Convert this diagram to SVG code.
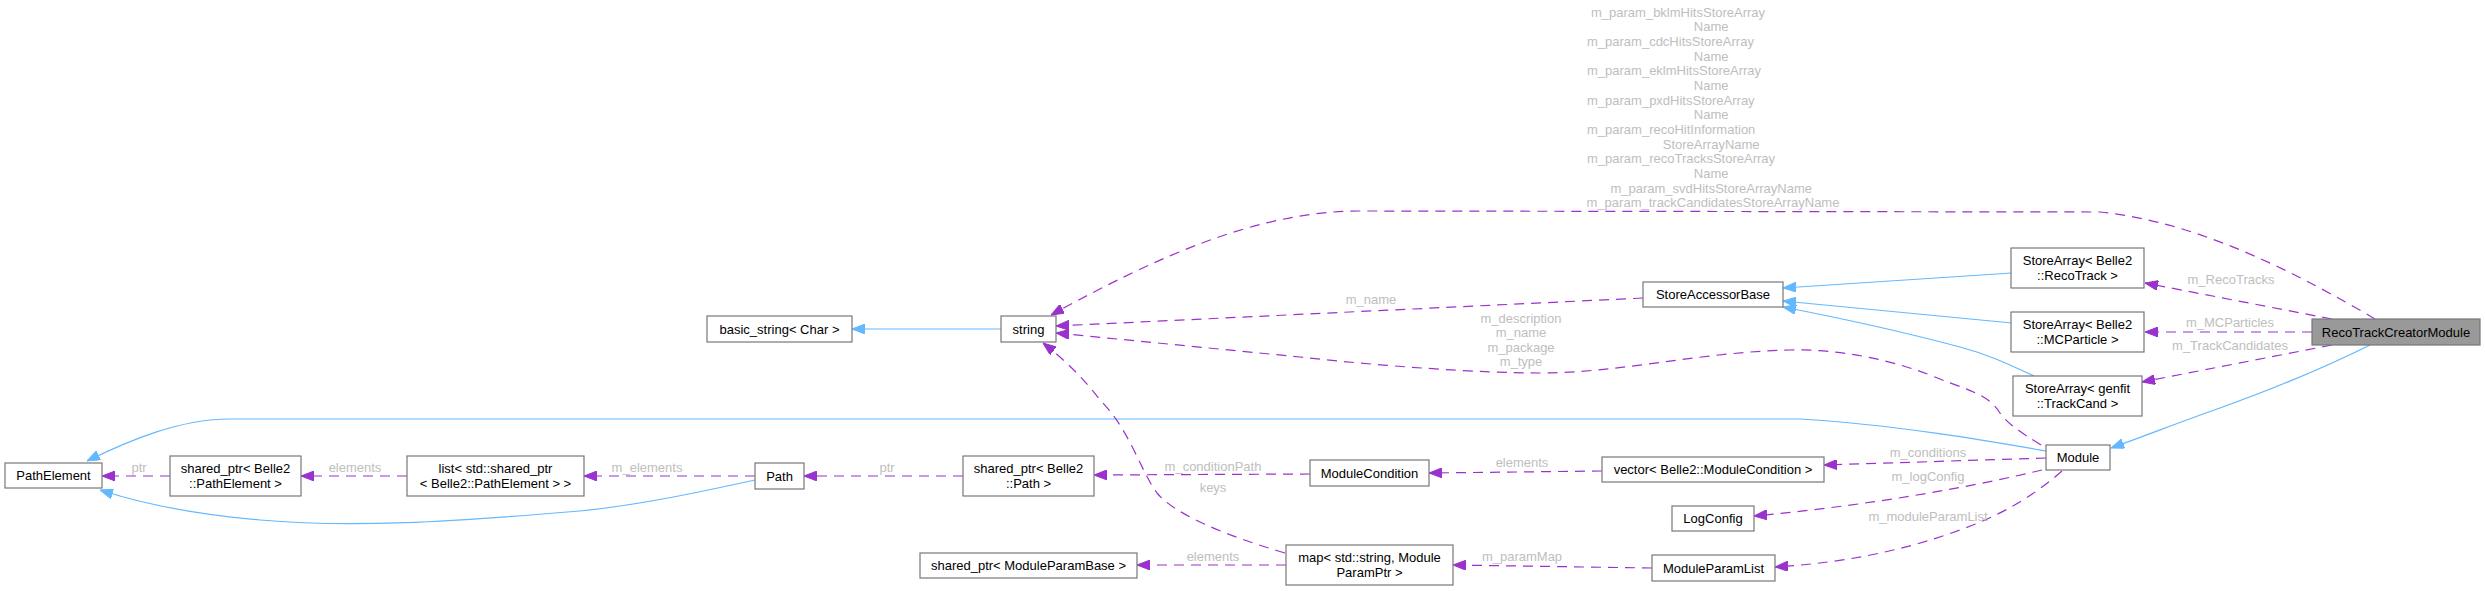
<svg xmlns="http://www.w3.org/2000/svg" width="2485" height="591" viewBox="0 0 2485 591">
<style>
.n rect{fill:#fff;stroke:#777;stroke-width:1.2}
.n.hl rect{fill:#999}
.n text{font-family:"Liberation Sans",Arial,sans-serif;font-size:13px;fill:#000;text-anchor:middle}
.lbl{font-family:"Liberation Sans",Arial,sans-serif;font-size:13px;fill:#bebebe;text-anchor:middle}
.lbl .s{text-anchor:start}
.inh{fill:none;stroke:#63b8ff;stroke-width:1.2;marker-end:url(#ab)}
.use{fill:none;stroke:#9a32cd;stroke-width:1.2;stroke-dasharray:10,7;marker-end:url(#ap)}
</style>
<defs>
<marker id="ab" viewBox="0 0 13 10" refX="13" refY="5" markerWidth="13" markerHeight="10" markerUnits="userSpaceOnUse" orient="auto"><path d="M0,0 L13,5 L0,10 z" fill="#63b8ff" stroke="#63b8ff"/></marker>
<marker id="ap" viewBox="0 0 13 10" refX="13" refY="5" markerWidth="13" markerHeight="10" markerUnits="userSpaceOnUse" orient="auto"><path d="M0,0 L13,5 L0,10 z" fill="#9a32cd" stroke="#9a32cd"/></marker>
</defs>
<rect width="2485" height="591" fill="#fff"/>
<g id="edges">
<path class="inh" d="M1001,329 L852,329"/>
<path class="use" d="M2375,319 C2300,275 2200,222 2100,212 L1360,211 C1260,211 1160,255 1051,315"/>
<path class="use" d="M1643,298 L1056,326"/>
<path class="use" d="M2041,445 C2020,432 2005,422 1998,410 C1985,392 1960,388 1930,375 C1880,356 1830,349 1790,350 C1700,352 1620,373 1540,373 C1480,373 1380,366 1300,357 L1056,333"/>
<path class="use" d="M2332,319 L2145,283"/>
<path class="use" d="M2312,332 L2145,332"/>
<path class="use" d="M2332,345 L2142,382"/>
<path class="inh" d="M2370,345 C2330,365 2270,390 2220,408 C2180,422 2150,434 2111,448"/>
<path class="inh" d="M2012,273 L1783,288"/>
<path class="inh" d="M2012,323 L1783,301"/>
<path class="inh" d="M2034,376 C2010,365 1990,355 1960,347 C1900,331 1840,318 1783,307"/>
<path class="inh" d="M2046,451 C2000,443 1900,425 1800,419 L230,419 C180,419 130,440 87,461"/>
<path class="inh" d="M755,480 C700,492 640,505 580,511 C450,522 350,528 260,520 C190,514 140,503 100,490"/>
<path class="use" d="M170,476 L102,476"/>
<path class="use" d="M407,476 L301,476"/>
<path class="use" d="M755,476 L584,476"/>
<path class="use" d="M963,476 L804,476"/>
<path class="use" d="M1310,474 L1094,475"/>
<path class="use" d="M1602,471 L1429,473"/>
<path class="use" d="M2046,458 L1824,465"/>
<path class="use" d="M2042,470 C1950,492 1850,507 1754,516"/>
<path class="use" d="M2062,471 C2040,490 2010,512 1960,530 C1900,552 1840,563 1775,567"/>
<path class="use" d="M1652,568 L1453,565"/>
<path class="use" d="M1286,565 L1137,565"/>
<path class="use" d="M1285,553 C1230,537 1175,515 1157,493 C1140,470 1130,430 1100,400 C1085,380 1065,360 1043,343"/>
<text class="lbl" x="139" y="472">ptr</text>
<text class="lbl" x="355" y="472">elements</text>
<text class="lbl" x="647" y="472">m_elements</text>
<text class="lbl" x="887" y="472">ptr</text>
<text class="lbl" x="1213" y="471">m_conditionPath</text>
<text class="lbl" x="1213" y="492">keys</text>
<text class="lbl" x="1213" y="561">elements</text>
<text class="lbl" x="1522" y="467">elements</text>
<text class="lbl" x="1522" y="561">m_paramMap</text>
<text class="lbl" x="1928" y="457">m_conditions</text>
<text class="lbl" x="1928" y="481">m_logConfig</text>
<text class="lbl" x="1928" y="521">m_moduleParamList</text>
<text class="lbl" x="1371" y="304">m_name</text>
<text class="lbl" x="1521" y="322.5">m_description</text>
<text class="lbl" x="1521" y="337">m_name</text>
<text class="lbl" x="1521" y="351.5">m_package</text>
<text class="lbl" x="1521" y="366">m_type</text>
<text class="lbl" x="2231" y="284">m_RecoTracks</text>
<text class="lbl" x="2230" y="327">m_MCParticles</text>
<text class="lbl" x="2230" y="350">m_TrackCandidates</text>
<text class="lbl">
<tspan class="s" x="1591" y="16.5">m_param_bklmHitsStoreArray</tspan>
<tspan x="1713" y="31.2">Name</tspan>
<tspan class="s" x="1587" y="45.8">m_param_cdcHitsStoreArray</tspan>
<tspan x="1713" y="60.5">Name</tspan>
<tspan class="s" x="1587" y="75.2">m_param_eklmHitsStoreArray</tspan>
<tspan x="1713" y="89.8">Name</tspan>
<tspan class="s" x="1587" y="104.5">m_param_pxdHitsStoreArray</tspan>
<tspan x="1713" y="119.2">Name</tspan>
<tspan class="s" x="1587" y="133.8">m_param_recoHitInformation</tspan>
<tspan x="1713" y="148.5">StoreArrayName</tspan>
<tspan class="s" x="1587" y="163.2">m_param_recoTracksStoreArray</tspan>
<tspan x="1713" y="177.8">Name</tspan>
<tspan x="1713" y="192.5">m_param_svdHitsStoreArrayName</tspan>
<tspan x="1713" y="207.2">m_param_trackCandidatesStoreArrayName</tspan>
</text>
</g>
<g id="n_RecoTrackCreatorModule" class="n hl"><rect x="2312" y="319" width="168" height="26"/><text x="2396" y="336.5">RecoTrackCreatorModule</text></g>
<g id="n_StoreArrayRecoTrack" class="n"><rect x="2011" y="248" width="133" height="40"/><text x="2077.5" y="265">StoreArray&lt; Belle2</text><text x="2077.5" y="280">::RecoTrack &gt;</text></g>
<g id="n_StoreArrayMCParticle" class="n"><rect x="2011" y="312" width="133" height="40"/><text x="2077.5" y="329">StoreArray&lt; Belle2</text><text x="2077.5" y="344">::MCParticle &gt;</text></g>
<g id="n_StoreArrayTrackCand" class="n"><rect x="2013" y="376" width="129" height="40"/><text x="2077.5" y="393">StoreArray&lt; genfit</text><text x="2077.5" y="408">::TrackCand &gt;</text></g>
<g id="n_Module" class="n"><rect x="2046" y="445" width="64" height="25"/><text x="2078" y="462">Module</text></g>
<g id="n_StoreAccessorBase" class="n"><rect x="1643" y="282" width="140" height="25"/><text x="1713" y="299">StoreAccessorBase</text></g>
<g id="n_string" class="n"><rect x="1001" y="316" width="55" height="26"/><text x="1028.5" y="333.5">string</text></g>
<g id="n_basic_string" class="n"><rect x="707" y="316" width="145" height="26"/><text x="779.5" y="333.5">basic_string&lt; Char &gt;</text></g>
<g id="n_PathElement" class="n"><rect x="5" y="463" width="97" height="25"/><text x="53.5" y="480">PathElement</text></g>
<g id="n_shared_ptr_PathElement" class="n"><rect x="170" y="456" width="131" height="40"/><text x="235.5" y="473">shared_ptr&lt; Belle2</text><text x="235.5" y="488">::PathElement &gt;</text></g>
<g id="n_list" class="n"><rect x="407" y="456" width="177" height="40"/><text x="495.5" y="473">list&lt; std::shared_ptr</text><text x="495.5" y="488">&lt; Belle2::PathElement &gt; &gt;</text></g>
<g id="n_Path" class="n"><rect x="755" y="463" width="49" height="26"/><text x="779.5" y="480.5">Path</text></g>
<g id="n_shared_ptr_Path" class="n"><rect x="963" y="456" width="131" height="40"/><text x="1028.5" y="473">shared_ptr&lt; Belle2</text><text x="1028.5" y="488">::Path &gt;</text></g>
<g id="n_ModuleCondition" class="n"><rect x="1310" y="460" width="119" height="26"/><text x="1369.5" y="477.5">ModuleCondition</text></g>
<g id="n_vector" class="n"><rect x="1602" y="457" width="222" height="25"/><text x="1713" y="474">vector&lt; Belle2::ModuleCondition &gt;</text></g>
<g id="n_LogConfig" class="n"><rect x="1672" y="506" width="82" height="25"/><text x="1713" y="523">LogConfig</text></g>
<g id="n_ModuleParamList" class="n"><rect x="1652" y="555" width="123" height="26"/><text x="1713.5" y="572.5">ModuleParamList</text></g>
<g id="n_map" class="n"><rect x="1286" y="545" width="167" height="40"/><text x="1369.5" y="562">map&lt; std::string, Module</text><text x="1369.5" y="577">ParamPtr &gt;</text></g>
<g id="n_shared_ptr_ModuleParamBase" class="n"><rect x="920" y="553" width="217" height="25"/><text x="1028.5" y="570">shared_ptr&lt; ModuleParamBase &gt;</text></g>
</svg>
